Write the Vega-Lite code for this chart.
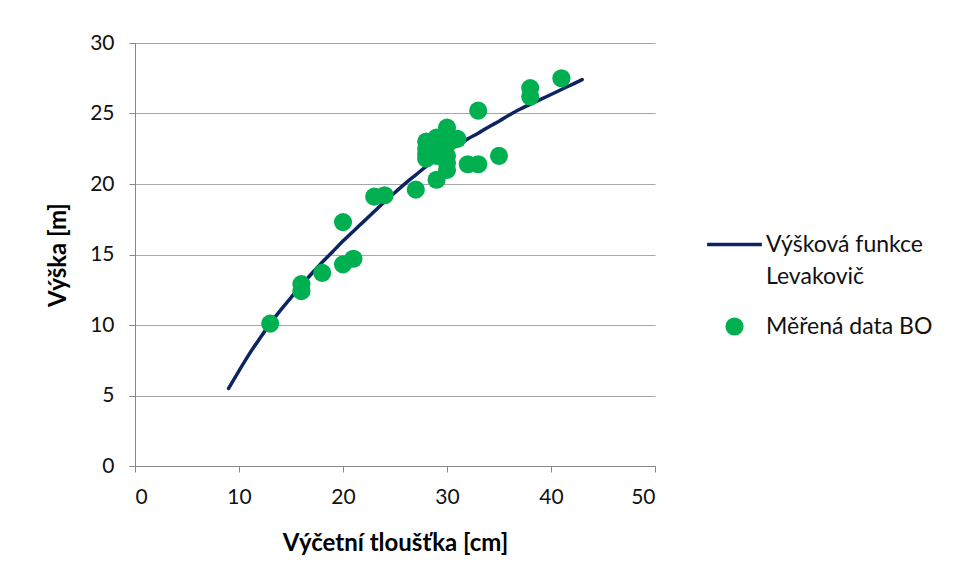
{
  "$schema": "https://vega.github.io/schema/vega-lite/v6.json",
  "autosize": {"type": "none"},
  "width": 520,
  "height": 423,
  "padding": {"left": 135, "top": 43, "right": 305, "bottom": 114},
  "background": "white",
  "config": {
    "font": "Lato",
    "view": {"stroke": null},
    "axis": {"labelFont": "Lato", "titleFont": "Lato"},
    "style": {"guide-label": {"lineHeight": 32}}
  },
  "datasets": {
    "curve": [
      {"d": 9, "h": 5.5}, {"d": 10, "h": 6.75}, {"d": 11, "h": 7.95}, {"d": 12, "h": 9.05},
      {"d": 13, "h": 10.1}, {"d": 14, "h": 11.05}, {"d": 15, "h": 11.95}, {"d": 16, "h": 12.8},
      {"d": 17, "h": 13.65}, {"d": 18, "h": 14.45}, {"d": 19, "h": 15.2}, {"d": 20, "h": 15.95},
      {"d": 21, "h": 16.65}, {"d": 22, "h": 17.35}, {"d": 23, "h": 18.05}, {"d": 24, "h": 18.75},
      {"d": 25, "h": 19.4}, {"d": 26, "h": 20.05}, {"d": 27, "h": 20.65}, {"d": 28, "h": 21.25},
      {"d": 29, "h": 21.8}, {"d": 30, "h": 22.3}, {"d": 31, "h": 22.75}, {"d": 32, "h": 23.2},
      {"d": 33, "h": 23.6}, {"d": 34, "h": 24.05}, {"d": 35, "h": 24.45}, {"d": 36, "h": 24.9},
      {"d": 37, "h": 25.3}, {"d": 38, "h": 25.65}, {"d": 39, "h": 26.0}, {"d": 40, "h": 26.35},
      {"d": 41, "h": 26.7}, {"d": 42, "h": 27.05}, {"d": 43, "h": 27.4}
    ],
    "points": [
      {"d": 13, "h": 10.1}, {"d": 16, "h": 12.9}, {"d": 16, "h": 12.4}, {"d": 18, "h": 13.7},
      {"d": 20, "h": 14.3}, {"d": 21, "h": 14.7}, {"d": 20, "h": 17.3}, {"d": 23, "h": 19.1},
      {"d": 24, "h": 19.2}, {"d": 27, "h": 19.6}, {"d": 29, "h": 20.3}, {"d": 30, "h": 21.0},
      {"d": 32, "h": 21.4}, {"d": 33, "h": 21.4}, {"d": 35, "h": 22.0}, {"d": 33, "h": 25.2},
      {"d": 38, "h": 26.8}, {"d": 38, "h": 26.2}, {"d": 41, "h": 27.5},
      {"d": 28, "h": 23.0}, {"d": 28, "h": 22.5}, {"d": 28, "h": 22.1}, {"d": 28, "h": 21.8},
      {"d": 29, "h": 22.0}, {"d": 29, "h": 22.6}, {"d": 29, "h": 23.3}, {"d": 30, "h": 24.0},
      {"d": 30, "h": 23.5}, {"d": 30, "h": 22.8}, {"d": 30, "h": 22.0}, {"d": 30, "h": 21.5},
      {"d": 31, "h": 23.2}
    ]
  },
  "layer": [
    {
      "data": {"name": "curve"},
      "mark": {"type": "line", "strokeWidth": 3.5, "interpolate": "monotone", "strokeCap": "round"},
      "encoding": {
        "x": {
          "field": "d", "type": "quantitative",
          "scale": {"domain": [0, 50]},
          "axis": {
            "title": "Výčetní tloušťka [cm]", "titleFontSize": 24, "titleFontWeight": "bold", "titleColor": "#000",
            "titlePadding": 24, "values": [0, 10, 20, 30, 40, 50],
            "labelFontSize": 21, "labelColor": "#111", "labelPadding": 14,
            "tickSize": 6, "tickColor": "#888", "domainColor": "#888", "grid": false
          }
        },
        "y": {
          "field": "h", "type": "quantitative",
          "scale": {"domain": [0, 30]},
          "axis": {
            "title": "Výška [m]", "titleFontSize": 24, "titleFontWeight": "bold", "titleColor": "#000",
            "titlePadding": 19, "values": [0, 5, 10, 15, 20, 25, 30],
            "labelFontSize": 21, "labelColor": "#111", "labelPadding": 15,
            "tickSize": 6, "tickColor": "#888", "domainColor": "#888",
            "grid": true, "gridColor": "#a6a6a6", "gridWidth": 1.2
          }
        },
        "stroke": {
          "datum": "Výšková funkce Levakovič", "type": "nominal",
          "scale": {"range": ["#0c2461"]},
          "legend": {
            "title": null, "orient": "none", "legendX": 570, "legendY": 172,
            "symbolType": "stroke", "symbolStrokeWidth": 3.5, "symbolSize": 3000,
            "labelFontSize": 23, "labelColor": "#111", "labelFont": "Lato",
            "labelExpr": "['Výšková funkce', 'Levakovič']", "labelBaseline": "middle", "labelOffset": 2,
            "labelLimit": 300
          }
        }
      }
    },
    {
      "data": {"name": "points"},
      "mark": {"type": "circle", "size": 330, "opacity": 1},
      "encoding": {
        "x": {"field": "d", "type": "quantitative"},
        "y": {"field": "h", "type": "quantitative"},
        "fill": {
          "datum": "Měřená data BO", "type": "nominal",
          "scale": {"range": ["#00b050"]},
          "legend": {
            "title": null, "orient": "none", "legendX": 588, "legendY": 272,
            "symbolType": "circle", "symbolSize": 330, "symbolOpacity": 1,
            "labelFontSize": 23, "labelColor": "#111", "labelFont": "Lato", "labelOffset": 20,
            "labelLimit": 300
          }
        }
      }
    }
  ],
  "resolve": {"scale": {"stroke": "independent", "fill": "independent"}}
}
